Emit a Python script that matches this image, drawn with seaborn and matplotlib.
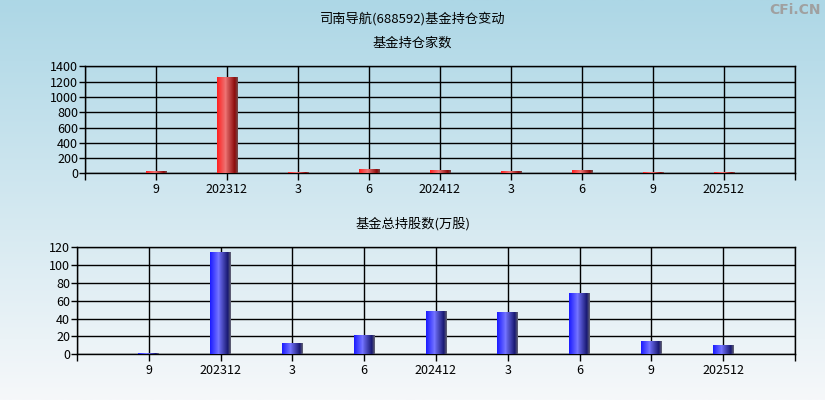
import numpy as np
import pandas as pd
import matplotlib
matplotlib.use("Agg")
import matplotlib.pyplot as plt
from matplotlib.colors import LinearSegmentedColormap
import seaborn as sns

periods = ["2023-09", "2023-12", "2024-03", "2024-06", "2024-12",
           "2025-03", "2025-06", "2025-09", "2025-12"]
tick_labels = ["9", "202312", "3", "6", "202412", "3", "6", "9", "202512"]
fund_counts = [14, 1250, 12, 42, 28, 14, 28, 12, 12]
fund_shares = [1.1, 113.5, 11.5, 20.5, 47.5, 46.3, 67.5, 13.8, 9.3]

main_title = "司南导航(688592)基金持仓变动"
top_title = "基金持仓家数"
bottom_title = "基金总持股数(万股)"

sns.set_theme(style="white")
plt.rcParams["font.family"] = ["Noto Sans CJK SC", "DejaVu Sans"]

fig = plt.figure(figsize=(8.25, 4.0), dpi=100)

# background gradient
bg = fig.add_axes([0, 0, 1, 1], zorder=-10)
top_c = np.array([173, 215, 230]) / 255
bot_c = np.array([246, 248, 250]) / 255
t = np.linspace(0, 1, 256)[:, None]
grad = top_c[None, :] * (1 - t) + bot_c[None, :] * t
bg.imshow(grad[:, None, :], aspect="auto", extent=[0, 1, 0, 1])
bg.set_axis_off()

red_cmap = LinearSegmentedColormap.from_list(
    "r", [(0, (1.0, 0.12, 0.12)), (0.4, (0.93, 0.45, 0.45)), (0.85, (0.55, 0.05, 0.05)), (1, (0.45, 0.3, 0.3))])
blue_cmap = LinearSegmentedColormap.from_list(
    "b", [(0, (0.1, 0.1, 1.0)), (0.4, (0.45, 0.45, 1.0)), (0.85, (0.1, 0.1, 0.45)), (1, (0.4, 0.4, 0.45))])


def draw(ax, values, color, cmap, ymax, ystep):
    df = pd.DataFrame({"period": periods, "value": values})
    sns.barplot(data=df, x="period", y="value", order=periods, color=color,
                width=0.29, ax=ax, saturation=1, zorder=3, linewidth=0,
                edgecolor="none")
    ax.set_facecolor("none")
    ax.set_xlim(-1, 9)
    ax.set_ylim(0, ymax)
    ax.set_xticks(range(-1, 10))
    ax.set_xticklabels([""] + tick_labels + [""])
    ax.set_yticks(np.arange(0, ymax + 1, ystep))
    ax.set_xlabel("")
    ax.set_ylabel("")
    ax.grid(True, color="black", linewidth=1.0, zorder=1)
    for s in ax.spines.values():
        s.set_color("black")
        s.set_linewidth(1.0)
    ax.tick_params(axis="x", direction="out", length=5, width=1.0, color="black",
                   labelsize=9, pad=2, labelcolor="black", bottom=True)
    ax.tick_params(axis="y", direction="out", length=4, width=1.0, color="black",
                   labelsize=9, pad=1, labelcolor="black", left=True)
    g = np.linspace(0, 1, 128)[None, :]
    for p in list(ax.patches):
        x0, y0 = p.get_x(), p.get_y()
        w, h = p.get_width(), p.get_height()
        if h <= 0:
            continue
        ax.imshow(g, cmap=cmap, aspect="auto", extent=[x0, x0 + w, y0, y0 + h],
                  zorder=4, interpolation="nearest")
    ax.set_xlim(-1, 9)
    ax.set_ylim(0, ymax)


ax1 = fig.add_axes([0.1030, 0.5663, 0.8606, 0.2675])
draw(ax1, fund_counts, "#e02020", red_cmap, 1400, 200)

ax2 = fig.add_axes([0.0933, 0.1143, 0.8703, 0.2675])
draw(ax2, fund_shares, "#2020e0", blue_cmap, 120, 20)

fig.text(0.5, 0.953, main_title, ha="center", va="center", fontsize=9.5, color="black")
fig.text(0.5, 0.891, top_title, ha="center", va="center", fontsize=9.5, color="black")
fig.text(0.5, 0.44, bottom_title, ha="center", va="center", fontsize=9.5, color="black")
fig.text(0.995, 0.975, "CFi.CN", ha="right", va="center", fontsize=10,
         color="#a0a0a0", fontweight="bold", family=["DejaVu Sans"])

fig.savefig("out.png", dpi=100)
